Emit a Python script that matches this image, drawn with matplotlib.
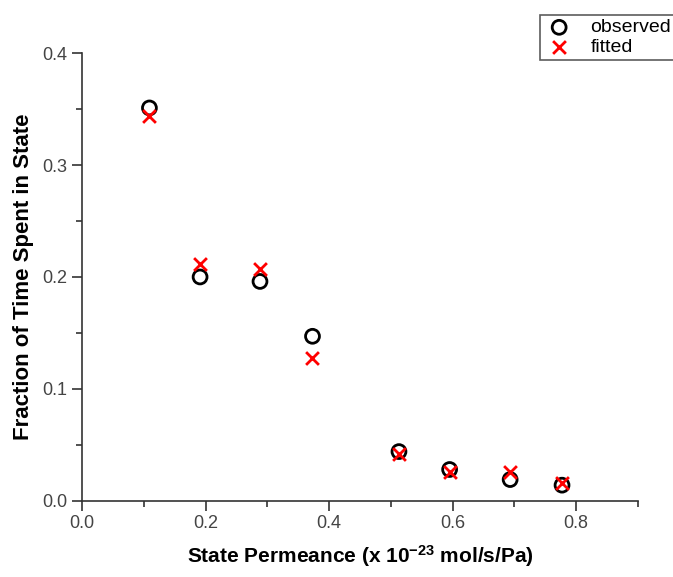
import matplotlib
matplotlib.use("Agg")
import matplotlib.pyplot as plt
from matplotlib.ticker import MultipleLocator

plt.rcParams['font.family'] = ['Liberation Sans', 'DejaVu Sans']

# data
perm = [0.109, 0.191, 0.288, 0.373, 0.513, 0.595, 0.693, 0.777]
observed = [0.351, 0.200, 0.196, 0.147, 0.044, 0.028, 0.019, 0.014]
fitted = [0.344, 0.212, 0.207, 0.128, 0.042, 0.026, 0.026, 0.016]

fig = plt.figure(figsize=(6.73, 5.77), dpi=100)
ax = fig.add_axes([0.122, 0.132, 0.826, 0.776])

ax.scatter(perm, observed, s=100, facecolors='none', edgecolors='black',
           linewidths=2, label='observed', zorder=3)
ax.scatter(perm, fitted, s=85, marker='x', color='red', linewidths=2,
           label='fitted', zorder=4)

ax.set_xlim(0, 0.9)
ax.set_ylim(0, 0.4)
ax.xaxis.set_major_locator(MultipleLocator(0.2))
ax.xaxis.set_minor_locator(MultipleLocator(0.1))
ax.yaxis.set_major_locator(MultipleLocator(0.1))
ax.yaxis.set_minor_locator(MultipleLocator(0.05))
ax.spines['top'].set_visible(False)
ax.spines['right'].set_visible(False)
for s in ['left', 'bottom']:
    ax.spines[s].set_color('#333333')
    ax.spines[s].set_linewidth(1.2)
ax.tick_params(which='major', direction='out', length=7, width=1.2,
               labelsize=13, colors='#333333', labelcolor='#444444')
ax.tick_params(which='minor', direction='out', length=4, width=1.2,
               colors='#333333')

ax.set_xlabel('State Permeance (x 10$\\mathregular{^{-23}}$ mol/s/Pa)',
              fontsize=15, fontweight='bold', labelpad=8)
ax.set_ylabel('Fraction of Time Spent in State', fontsize=16,
              fontweight='bold', labelpad=6)

leg = fig.legend(loc='upper left', bbox_to_anchor=(0.7875, 0.991),
                 fontsize=14, frameon=True, fancybox=False,
                 handletextpad=0.8, borderpad=0.2, labelspacing=0.1,
                 handlelength=1.6)
leg.get_frame().set_edgecolor('#333333')
leg.get_frame().set_linewidth(1.2)

fig.savefig('out.png', dpi=100)
